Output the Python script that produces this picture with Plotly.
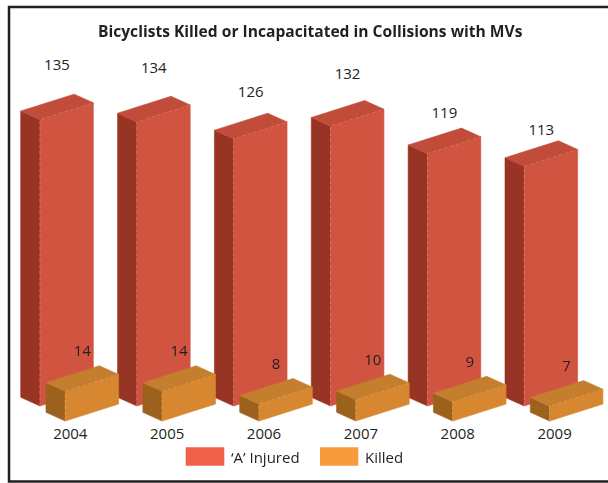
import plotly.graph_objects as go

# ---- data -------------------------------------------------------------
years = ["2004", "2005", "2006", "2007", "2008", "2009"]
injured = [135, 134, 126, 132, 119, 113]
killed = [14, 14, 8, 10, 9, 7]

# ---- look -------------------------------------------------------------
INJ_FRONT, INJ_SIDE, INJ_TOP = "#d15441", "#983424", "#c04c39"
KIL_FRONT, KIL_SIDE, KIL_TOP = "#d6872f", "#9c611c", "#c57d2e"
INJ_KEY, KIL_KEY = "#f0614b", "#f79b3c"
TEXT = "#231f20"
FONT = "Open Sans"

W, H = 608, 483
PLOT_BOTTOM_MARGIN = 59

# box geometry, in axis units
FACE_W = 0.551      # width of the front face (x units)
RISE = 8.0          # front face climbs this much (y units) from left to right
DEPTH_X = -0.199    # receding side goes back to the left...
DEPTH_Y = 4.1       # ...and up
INJ_DX = -0.313     # front-left corner of the injured column, relative to the category
KIL_DX = -0.052     # front-left corner of the killed column
KIL_BASE = -7.1     # killed row stands in front of (below) the injured row


def box_faces(x0, y0, h):
    """Return (side, front, top) polygons of a block whose front-left-bottom corner is (x0, y0)."""
    x1 = x0 + FACE_W
    side = [(x0 + DEPTH_X, y0 + DEPTH_Y), (x0, y0), (x0, y0 + h), (x0 + DEPTH_X, y0 + DEPTH_Y + h)]
    front = [(x0, y0), (x1, y0 + RISE), (x1, y0 + RISE + h), (x0, y0 + h)]
    top = [(x0, y0 + h), (x1, y0 + RISE + h),
           (x1 + DEPTH_X, y0 + RISE + DEPTH_Y + h), (x0 + DEPTH_X, y0 + DEPTH_Y + h)]
    return side, front, top


def collect(values, dx, base):
    faces = {"side": ([], []), "front": ([], []), "top": ([], []), "edge": ([], [])}
    for i, v in enumerate(values):
        x0 = i + dx
        side, front, top = box_faces(x0, base, v)
        for name, poly in (("side", side), ("front", front), ("top", top)):
            xs, ys = faces[name]
            for px, py in poly + [poly[0]]:
                xs.append(px)
                ys.append(py)
            xs.append(None)
            ys.append(None)
        # light seam along the front-top and front-left edges
        ex, ey = faces["edge"]
        for px, py in [(x0, base), (x0, base + v), (x0 + FACE_W, base + RISE + v)]:
            ex.append(px)
            ey.append(py)
        ex.append(None)
        ey.append(None)
    return faces


fig = go.Figure()


def add_boxes(values, dx, base, colors, seam):
    faces = collect(values, dx, base)
    for name, col in zip(("side", "front", "top"), colors):
        xs, ys = faces[name]
        fig.add_trace(go.Scatter(
            x=xs, y=ys, mode="lines", fill="toself", fillcolor=col,
            line=dict(color=col, width=0.6), hoverinfo="skip", showlegend=False))
    ex, ey = faces["edge"]
    fig.add_trace(go.Scatter(
        x=ex, y=ey, mode="lines", line=dict(color=seam, width=0.6, dash="dot"),
        opacity=0.7, hoverinfo="skip", showlegend=False))


add_boxes(injured, INJ_DX, 0, (INJ_SIDE, INJ_FRONT, INJ_TOP), "#ec9a8a")
add_boxes(killed, KIL_DX, KIL_BASE, (KIL_SIDE, KIL_FRONT, KIL_TOP), "#efb874")

# value labels floating above each block
LABEL_DX = 0.1755
fig.add_trace(go.Scatter(
    x=[i + INJ_DX + LABEL_DX for i in range(len(years))],
    y=[v + 21.8 + 0.4 * (v - 126.5) for v in injured],
    mode="text", text=[str(v) for v in injured], textposition="middle center",
    textfont=dict(family=FONT, size=15, color=TEXT),
    cliponaxis=False, hoverinfo="skip", showlegend=False))
fig.add_trace(go.Scatter(
    x=[i + KIL_DX + LABEL_DX for i in range(len(years))],
    y=[v + 11.3 for v in killed],
    mode="text", text=[str(v) for v in killed], textposition="middle center",
    textfont=dict(family=FONT, size=15, color=TEXT),
    cliponaxis=False, hoverinfo="skip", showlegend=False))

plot_h = H - PLOT_BOTTOM_MARGIN
px_per_unit = 2.12
y_top = 406 / px_per_unit
y_bottom = -(plot_h - 406) / px_per_unit
px_per_cat = 96.86
x_left = -70.3 / px_per_cat
x_right = (W - 70.3) / px_per_cat

fig.update_xaxes(
    range=[x_left, x_right], tickmode="array",
    tickvals=list(range(len(years))), ticktext=years,
    showgrid=False, zeroline=False, showline=False, ticks="",
    ticklabelstandoff=-1,
    tickfont=dict(family=FONT, size=15, color=TEXT), fixedrange=True)
fig.update_yaxes(range=[y_bottom, y_top], visible=False, fixedrange=True)

# legend keys
legend_items = [("\u2018A\u2019 Injured", INJ_KEY, 185.7, 224.3),
                ("Killed", KIL_KEY, 320.0, 358.3)]
shapes = []
annotations = []
for label, col, kx0, kx1 in legend_items:
    shapes.append(dict(type="rect", xref="paper", yref="paper",
                       x0=kx0 / W, x1=kx1 / W,
                       y0=(plot_h - 465.7) / plot_h, y1=(plot_h - 447.3) / plot_h,
                       fillcolor=col, line=dict(width=0)))
    annotations.append(dict(text=label, xref="paper", yref="paper",
                            x=(kx1 + 5) / W, y=(plot_h - 456.5) / plot_h,
                            xanchor="left", yanchor="middle", showarrow=False,
                            font=dict(family=FONT, size=15, color=TEXT)))

# frame around the whole graphic
shapes.append(dict(type="rect", xref="paper", yref="paper",
                   x0=9 / W, x1=1.02,
                   y0=(plot_h - 481.5) / plot_h, y1=(plot_h - 7) / plot_h,
                   line=dict(color=TEXT, width=2.5), fillcolor="rgba(0,0,0,0)", layer="above"))

annotations.append(dict(
    text="<b>Bicyclists Killed or Incapacitated in Collisions with MVs</b>",
    xref="paper", yref="paper", x=310.8 / W, y=(plot_h - 31) / plot_h,
    xanchor="center", yanchor="middle", showarrow=False,
    font=dict(family=FONT, size=15.6, color=TEXT)))

fig.update_layout(
    width=W, height=H,
    margin=dict(l=0, r=0, t=0, b=PLOT_BOTTOM_MARGIN),
    paper_bgcolor="white", plot_bgcolor="white",
    shapes=shapes, annotations=annotations, showlegend=False)

fig.write_html("out.html")
